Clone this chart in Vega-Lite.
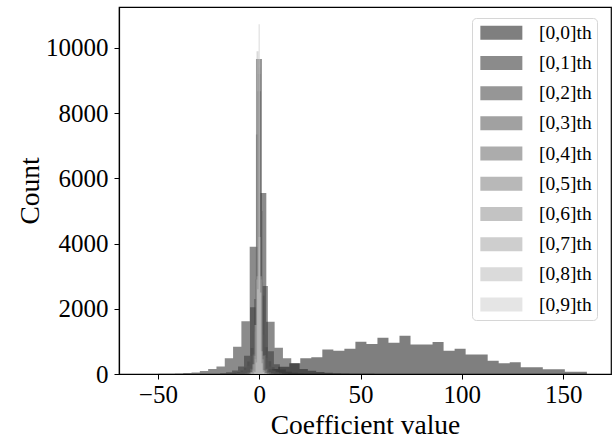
{
  "$schema": "https://vega.github.io/schema/vega-lite/v6.json",
  "width": 492,
  "height": 367,
  "autosize": {"type": "none"},
  "padding": {"left": 119, "top": 7, "right": 3, "bottom": 66},
  "background": "white",
  "config": {
    "font": "Liberation Serif",
    "view": {"stroke": "black", "strokeWidth": 1.2},
    "axis": {
      "labelFont": "Liberation Serif", "labelFontSize": 25, "labelColor": "black",
      "titleFont": "Liberation Serif", "titleFontSize": 27.5, "titleFontWeight": "normal", "titleColor": "black",
      "tickColor": "black", "tickSize": 5, "tickWidth": 1, "domainColor": "black", "domainWidth": 1.2,
      "grid": false, "labelFlush": false
    },
    "legend": {"labelFont": "Liberation Serif"}
  },
  "data": {"values": [
    {"s":"[0,0]th","a":-1.5,"n":100},
    {"s":"[0,0]th","a":3.94,"n":150},
    {"s":"[0,0]th","a":9.38,"n":220},
    {"s":"[0,0]th","a":14.82,"n":330},
    {"s":"[0,0]th","a":20.26,"n":480},
    {"s":"[0,0]th","a":25.7,"n":510},
    {"s":"[0,0]th","a":31.14,"n":755},
    {"s":"[0,0]th","a":36.58,"n":713},
    {"s":"[0,0]th","a":42.02,"n":775},
    {"s":"[0,0]th","a":47.46,"n":990},
    {"s":"[0,0]th","a":52.9,"n":918},
    {"s":"[0,0]th","a":58.34,"n":1110},
    {"s":"[0,0]th","a":63.78,"n":958},
    {"s":"[0,0]th","a":69.22,"n":1172},
    {"s":"[0,0]th","a":74.66,"n":908},
    {"s":"[0,0]th","a":80.1,"n":908},
    {"s":"[0,0]th","a":85.54,"n":980},
    {"s":"[0,0]th","a":90.98,"n":713},
    {"s":"[0,0]th","a":96.42,"n":775},
    {"s":"[0,0]th","a":101.86,"n":600},
    {"s":"[0,0]th","a":107.3,"n":600},
    {"s":"[0,0]th","a":112.74,"n":405},
    {"s":"[0,0]th","a":118.18,"n":327},
    {"s":"[0,0]th","a":123.62,"n":357},
    {"s":"[0,0]th","a":129.06,"n":205},
    {"s":"[0,0]th","a":134.5,"n":205},
    {"s":"[0,0]th","a":139.94,"n":143},
    {"s":"[0,0]th","a":145.38,"n":143},
    {"s":"[0,0]th","a":150.82,"n":70},
    {"s":"[0,0]th","a":156.26,"n":70},
    {"s":"[0,0]th","a":161.7,"n":0},

    {"s":"[0,1]th","a":-58,"n":2},
    {"s":"[0,1]th","a":-53.9,"n":3},
    {"s":"[0,1]th","a":-49.8,"n":5},
    {"s":"[0,1]th","a":-45.7,"n":8},
    {"s":"[0,1]th","a":-41.6,"n":15},
    {"s":"[0,1]th","a":-37.5,"n":30},
    {"s":"[0,1]th","a":-33.4,"n":45},
    {"s":"[0,1]th","a":-29.3,"n":90},
    {"s":"[0,1]th","a":-25.2,"n":150},
    {"s":"[0,1]th","a":-21.1,"n":230},
    {"s":"[0,1]th","a":-17,"n":480},
    {"s":"[0,1]th","a":-12.9,"n":835},
    {"s":"[0,1]th","a":-8.8,"n":1620},
    {"s":"[0,1]th","a":-4.7,"n":3900},
    {"s":"[0,1]th","a":-0.6,"n":5550},
    {"s":"[0,1]th","a":3.5,"n":1600},
    {"s":"[0,1]th","a":7.6,"n":805},
    {"s":"[0,1]th","a":11.7,"n":480},
    {"s":"[0,1]th","a":15.8,"n":330},
    {"s":"[0,1]th","a":19.9,"n":150},
    {"s":"[0,1]th","a":24,"n":100},
    {"s":"[0,1]th","a":28.1,"n":60},
    {"s":"[0,1]th","a":32.2,"n":40},
    {"s":"[0,1]th","a":36.3,"n":25},
    {"s":"[0,1]th","a":40.4,"n":15},
    {"s":"[0,1]th","a":44.5,"n":10},
    {"s":"[0,1]th","a":48.6,"n":6},
    {"s":"[0,1]th","a":52.7,"n":4},
    {"s":"[0,1]th","a":56.8,"n":2},
    {"s":"[0,1]th","a":60.9,"n":1},
    {"s":"[0,1]th","a":65,"n":0},

    {"s":"[0,2]th","a":-19.3,"n":25},
    {"s":"[0,2]th","a":-16.35,"n":50},
    {"s":"[0,2]th","a":-13.4,"n":110},
    {"s":"[0,2]th","a":-10.45,"n":230},
    {"s":"[0,2]th","a":-7.5,"n":560},
    {"s":"[0,2]th","a":-4.55,"n":2050},
    {"s":"[0,2]th","a":-1.6,"n":9660},
    {"s":"[0,2]th","a":1.35,"n":2700},
    {"s":"[0,2]th","a":4.3,"n":700},
    {"s":"[0,2]th","a":7.25,"n":300},
    {"s":"[0,2]th","a":10.2,"n":140},
    {"s":"[0,2]th","a":13.15,"n":70},
    {"s":"[0,2]th","a":16.1,"n":35},
    {"s":"[0,2]th","a":19.05,"n":15},
    {"s":"[0,2]th","a":22,"n":0},

    {"s":"[0,3]th","a":-14.28,"n":20},
    {"s":"[0,3]th","a":-12.6,"n":35},
    {"s":"[0,3]th","a":-10.92,"n":60},
    {"s":"[0,3]th","a":-9.24,"n":110},
    {"s":"[0,3]th","a":-7.56,"n":200},
    {"s":"[0,3]th","a":-5.88,"n":380},
    {"s":"[0,3]th","a":-4.2,"n":800},
    {"s":"[0,3]th","a":-2.52,"n":2300},
    {"s":"[0,3]th","a":-0.84,"n":8670},
    {"s":"[0,3]th","a":0.84,"n":2400},
    {"s":"[0,3]th","a":2.52,"n":820},
    {"s":"[0,3]th","a":4.2,"n":390},
    {"s":"[0,3]th","a":5.88,"n":210},
    {"s":"[0,3]th","a":7.56,"n":110},
    {"s":"[0,3]th","a":9.24,"n":60},
    {"s":"[0,3]th","a":10.92,"n":35},
    {"s":"[0,3]th","a":12.6,"n":20},
    {"s":"[0,3]th","a":14.28,"n":0},

    {"s":"[0,4]th","a":-11.34,"n":30},
    {"s":"[0,4]th","a":-9.72,"n":60},
    {"s":"[0,4]th","a":-8.1,"n":120},
    {"s":"[0,4]th","a":-6.48,"n":250},
    {"s":"[0,4]th","a":-4.86,"n":550},
    {"s":"[0,4]th","a":-3.24,"n":1300},
    {"s":"[0,4]th","a":-1.62,"n":7344},
    {"s":"[0,4]th","a":0,"n":5000},
    {"s":"[0,4]th","a":1.62,"n":1200},
    {"s":"[0,4]th","a":3.24,"n":500},
    {"s":"[0,4]th","a":4.86,"n":230},
    {"s":"[0,4]th","a":6.48,"n":110},
    {"s":"[0,4]th","a":8.1,"n":55},
    {"s":"[0,4]th","a":9.72,"n":25},
    {"s":"[0,4]th","a":11.34,"n":0},

    {"s":"[0,5]th","a":-7.15,"n":15},
    {"s":"[0,5]th","a":-5.85,"n":50},
    {"s":"[0,5]th","a":-4.55,"n":160},
    {"s":"[0,5]th","a":-3.25,"n":600},
    {"s":"[0,5]th","a":-1.95,"n":2900},
    {"s":"[0,5]th","a":-0.65,"n":9200},
    {"s":"[0,5]th","a":0.65,"n":2800},
    {"s":"[0,5]th","a":1.95,"n":580},
    {"s":"[0,5]th","a":3.25,"n":160},
    {"s":"[0,5]th","a":4.55,"n":50},
    {"s":"[0,5]th","a":5.85,"n":15},
    {"s":"[0,5]th","a":7.15,"n":0},

    {"s":"[0,6]th","a":-4.95,"n":35},
    {"s":"[0,6]th","a":-3.85,"n":130},
    {"s":"[0,6]th","a":-2.75,"n":550},
    {"s":"[0,6]th","a":-1.65,"n":2900},
    {"s":"[0,6]th","a":-0.55,"n":9400},
    {"s":"[0,6]th","a":0.55,"n":2900},
    {"s":"[0,6]th","a":1.65,"n":550},
    {"s":"[0,6]th","a":2.75,"n":130},
    {"s":"[0,6]th","a":3.85,"n":35},
    {"s":"[0,6]th","a":4.95,"n":0},

    {"s":"[0,7]th","a":-4.05,"n":20},
    {"s":"[0,7]th","a":-3.15,"n":90},
    {"s":"[0,7]th","a":-2.25,"n":450},
    {"s":"[0,7]th","a":-1.35,"n":3000},
    {"s":"[0,7]th","a":-0.45,"n":9500},
    {"s":"[0,7]th","a":0.45,"n":3000},
    {"s":"[0,7]th","a":1.35,"n":450},
    {"s":"[0,7]th","a":2.25,"n":90},
    {"s":"[0,7]th","a":3.15,"n":20},
    {"s":"[0,7]th","a":4.05,"n":0},

    {"s":"[0,8]th","a":-4.33,"n":60},
    {"s":"[0,8]th","a":-3.33,"n":300},
    {"s":"[0,8]th","a":-2.33,"n":1500},
    {"s":"[0,8]th","a":-1.33,"n":9900},
    {"s":"[0,8]th","a":-0.33,"n":4200},
    {"s":"[0,8]th","a":0.67,"n":700},
    {"s":"[0,8]th","a":1.67,"n":120},
    {"s":"[0,8]th","a":2.67,"n":30},
    {"s":"[0,8]th","a":3.67,"n":0},

    {"s":"[0,9]th","a":-2.45,"n":60},
    {"s":"[0,9]th","a":-1.75,"n":350},
    {"s":"[0,9]th","a":-1.05,"n":2600},
    {"s":"[0,9]th","a":-0.35,"n":10730},
    {"s":"[0,9]th","a":0.35,"n":2500},
    {"s":"[0,9]th","a":1.05,"n":330},
    {"s":"[0,9]th","a":1.75,"n":60},
    {"s":"[0,9]th","a":2.45,"n":0}
  ]},
  "mark": {"type": "area", "interpolate": "step-after", "opacity": 0.5, "clip": true},
  "encoding": {
    "x": {
      "field": "a", "type": "quantitative",
      "scale": {"domain": [-69.2, 173.6], "nice": false, "zero": false},
      "axis": {"values": [-50, 0, 50, 100, 150], "title": "Coefficient value", "labelPadding": 3, "titlePadding": 4}
    },
    "y": {
      "field": "n", "type": "quantitative", "stack": null,
      "scale": {"domain": [0, 11256], "nice": false},
      "axis": {"values": [0, 2000, 4000, 6000, 8000, 10000], "title": "Count", "labelPadding": 6, "titlePadding": 1, "format": "d"}
    },
    "color": {
      "field": "s", "type": "nominal",
      "scale": {
        "domain": ["[0,0]th","[0,1]th","[0,2]th","[0,3]th","[0,4]th","[0,5]th","[0,6]th","[0,7]th","[0,8]th","[0,9]th"],
        "range": ["#000000","#171717","#2d2d2d","#444444","#5a5a5a","#717171","#888888","#9e9e9e","#b5b5b5","#cbcbcb"]
      },
      "legend": {
        "title": null, "orient": "none", "legendX": 353, "legendY": 11,
        "symbolType": "M-3,-1L3,-1L3,1L-3,1Z", "symbolSize": 196, "symbolOffset": 14.6,
        "symbolStrokeWidth": 0, "symbolOpacity": 0.5,
        "labelOffset": 28, "labelLimit": 58, "labelFont": "Liberation Serif", "labelFontSize": 19.5, "labelColor": "black",
        "rowPadding": 9.2, "padding": 5, "strokeColor": "#d6d6d6", "cornerRadius": 4, "fillColor": "white"
      }
    }
  }
}
